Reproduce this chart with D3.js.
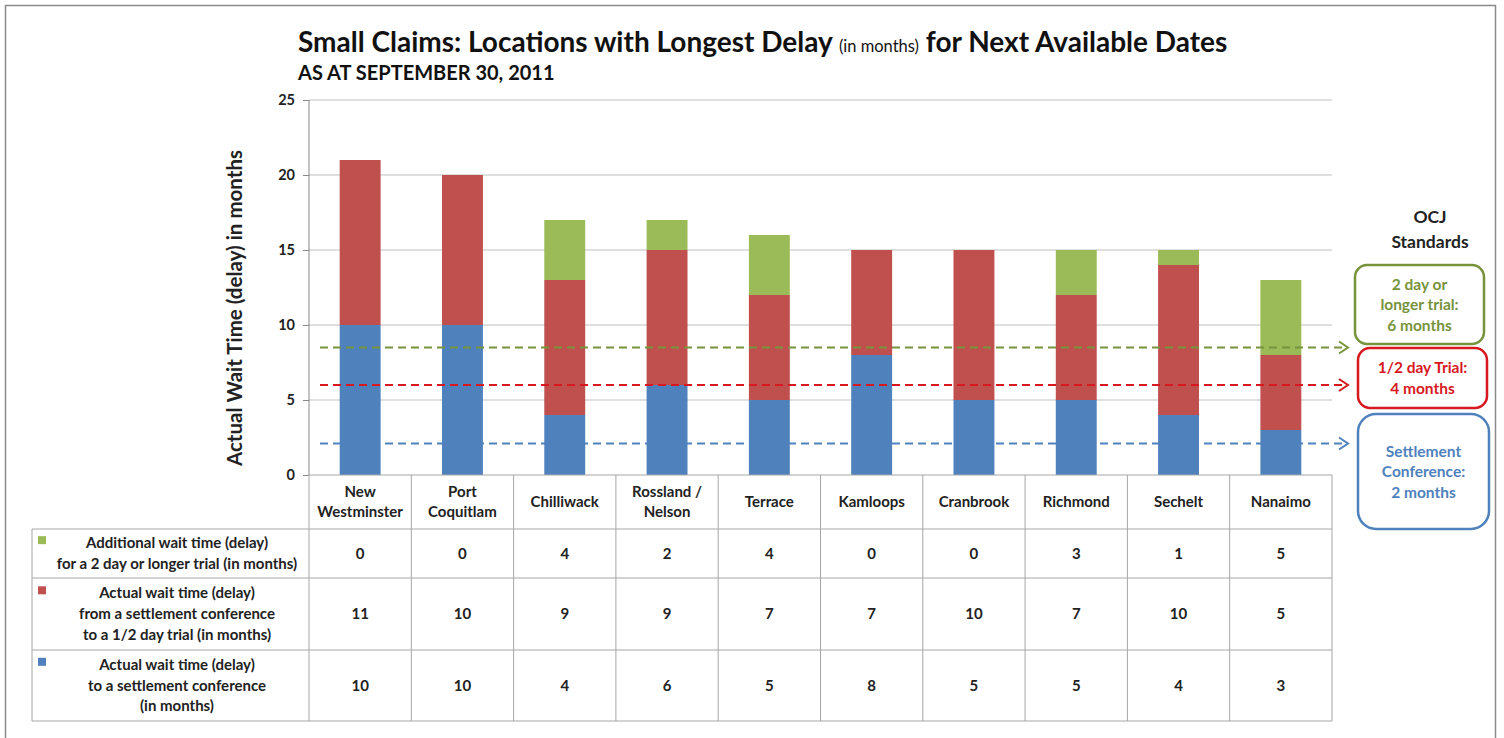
<html>
<head>
<style>
  body { margin: 0; background: #fff; }
  text { font-family: Lato, "Open Sans", sans-serif; }
</style>
</head>
<body>
<svg id="svg" width="1504" height="738"></svg>
<script src="https://d3js.org/d3.v7.min.js"></script>
<script>

// data
var locations = ["New Westminster", "Port Coquitlam", "Chilliwack", "Rossland / Nelson", "Terrace",
                 "Kamloops", "Cranbrook", "Richmond", "Sechelt", "Nanaimo"];
var locationLines = [["New", "Westminster"], ["Port", "Coquitlam"], ["Chilliwack"], ["Rossland /", "Nelson"],
                     ["Terrace"], ["Kamloops"], ["Cranbrook"], ["Richmond"], ["Sechelt"], ["Nanaimo"]];
var settlement = [10, 10, 4, 6, 5, 8, 5, 5, 4, 3];
var halfDay    = [11, 10, 9, 9, 7, 7, 10, 7, 10, 5];
var additional = [0, 0, 4, 2, 4, 0, 0, 3, 1, 5];
var yTicks = [0, 5, 10, 15, 20, 25];

var seriesNames = ["settlement", "halfDay", "additional"];
var seriesColors = { settlement: "#4f81bd", halfDay: "#c0504d", additional: "#9bbb59" };
var rowLabels = {
  additional: ["Additional wait time (delay)", "for a 2 day or longer trial (in months)"],
  halfDay: ["Actual wait time (delay)", "from a settlement conference", "to a 1/2 day trial (in months)"],
  settlement: ["Actual wait time (delay)", "to a settlement conference", "(in months)"]
};

// standard reference lines (drawn level) and their boxes
var standardLevels = [8.5, 6, 2.1];
var standardColors = ["#77933c", "#d7191f", "#4f81bd"];
var standardText = [["2 day or", "longer trial:", "6 months"], ["1/2 day Trial:", "4 months"],
                    ["Settlement", "Conference:", "2 months"]];

var svg = d3.select("#svg");
var L = 309, R = 1332, T = 100, B = 475;

var x = d3.scaleBand().domain(locations).range([L, R]).paddingInner(0.6).paddingOuter(0.3);
var col = d3.scaleBand().domain(locations).range([L, R]);
var y = d3.scaleLinear().domain([0, 25]).range([B, T]);

// frame
svg.append("rect").attr("x", 5.5).attr("y", 5.5).attr("width", 1490).attr("height", 760)
  .style("fill", "none").style("stroke", "#8a8a8a").style("stroke-width", 1.5);

// title
var title = svg.append("text").attr("x", 298).attr("y", 52).style("font-weight", "bold").style("fill", "#111");
title.append("tspan").style("font-size", "28px").text("Small Claims: Locations with Longest Delay ");
title.append("tspan").style("font-size", "16.5px").style("font-weight", "normal").text("(in months)");
title.append("tspan").style("font-size", "28px").text(" for Next Available Dates");
svg.append("text").attr("x", 298).attr("y", 80).style("font-weight", "bold").style("font-size", "20px")
  .style("fill", "#111").text("AS AT SEPTEMBER 30, 2011");

// grid + y axis
var yAxis = d3.axisLeft(y).tickValues(yTicks).tickSize(6).tickPadding(8);
svg.append("g").attr("transform", "translate(" + L + ",0)").call(yAxis)
  .call(g => g.select(".domain").remove())
  .call(g => g.selectAll(".tick line").style("stroke", "#888"))
  .call(g => g.selectAll(".tick text").style("font-size", "14.5px").style("font-weight", "bold")
    .style("font-family", "Lato, sans-serif").style("fill", "#222"));
svg.append("g").selectAll("line").data(yTicks.filter(d => d > 0)).join("line")
  .attr("x1", L).attr("x2", R).attr("y1", d => y(d)).attr("y2", d => y(d))
  .style("stroke", "#bfbfbf").style("stroke-width", 1);
svg.append("line").attr("x1", L).attr("x2", L).attr("y1", T).attr("y2", B)
  .style("stroke", "#888");

svg.append("text").attr("transform", "translate(242,308) rotate(-90)").attr("text-anchor", "middle")
  .style("font-size", "20.5px").style("font-weight", "bold").style("fill", "#222")
  .text("Actual Wait Time (delay) in months");

// stacked bars
var rows = locations.map((d, i) => ({ loc: d, settlement: settlement[i], halfDay: halfDay[i], additional: additional[i] }));
var stack = d3.stack().keys(seriesNames)(rows);
svg.append("g").selectAll("g").data(stack).join("g")
  .style("fill", d => seriesColors[d.key])
  .selectAll("rect").data(d => d).join("rect")
  .attr("x", d => x(d.data.loc)).attr("width", x.bandwidth())
  .attr("y", d => y(d[1])).attr("height", d => y(d[0]) - y(d[1]));

// standards dashed lines with arrows
standardLevels.forEach((v, i) => {
  var yy = y(v);
  svg.append("line").attr("x1", 320).attr("x2", 1346).attr("y1", yy).attr("y2", yy)
    .style("stroke", standardColors[i]).style("stroke-width", 2).style("stroke-dasharray", "8,5");
  svg.append("path").attr("d", "M1339," + (yy - 6) + "L1348," + yy + "L1339," + (yy + 6))
    .style("fill", "none").style("stroke", standardColors[i]).style("stroke-width", 2);
});

// standards boxes
svg.append("text").attr("x", 1430).attr("y", 223).attr("text-anchor", "middle")
  .style("font-size", "17.5px").style("font-weight", "bold").style("fill", "#222").text("OCJ");
svg.append("text").attr("x", 1430).attr("y", 248).attr("text-anchor", "middle")
  .style("font-size", "17.5px").style("font-weight", "bold").style("fill", "#222").text("Standards");
var boxes = [[1355, 265, 129, 79], [1358, 348, 129, 60], [1358, 414, 131, 115]];
boxes.forEach((b, i) => {
  svg.append("rect").attr("x", b[0]).attr("y", b[1]).attr("width", b[2]).attr("height", b[3])
    .attr("rx", i == 2 ? 18 : 12)
    .style("fill", "#fff").style("stroke", standardColors[i]).style("stroke-width", 2.5);
  var n = standardText[i].length;
  var cy = b[1] + b[3] / 2;
  svg.append("g").selectAll("text").data(standardText[i]).join("text")
    .attr("x", b[0] + b[2] / 2).attr("y", (d, k) => cy + (k - (n - 1) / 2) * 20.5 + 5.5)
    .attr("text-anchor", "middle").style("font-size", "15.5px").style("font-weight", "bold")
    .style("fill", standardColors[i]).text(d => d);
});

// data table
var rowTop = [529, 578, 650], rowBot = [578, 650, 721];
var rowKeys = ["additional", "halfDay", "settlement"];
var tableValues = { additional: additional, halfDay: halfDay, settlement: settlement };
var lineC = "#a6a6a6";
var tbl = svg.append("g");
// vertical lines
tbl.selectAll("line.v").data(locations.concat(["end"])).join("line").attr("class", "v")
  .attr("x1", d => d == "end" ? R : col(d)).attr("x2", d => d == "end" ? R : col(d))
  .attr("y1", B).attr("y2", rowBot[2]).style("stroke", lineC);
tbl.append("line").attr("x1", 32).attr("x2", 32).attr("y1", rowTop[0]).attr("y2", rowBot[2]).style("stroke", lineC);
tbl.append("line").attr("x1", L).attr("x2", R).attr("y1", B).attr("y2", B).style("stroke", lineC);
rowTop.concat([rowBot[2]]).forEach(v => {
  tbl.append("line").attr("x1", 32).attr("x2", R).attr("y1", v).attr("y2", v).style("stroke", lineC);
});

// header labels
tbl.selectAll("g.hdr").data(locations).join("g").attr("class", "hdr")
  .each(function(d, i) {
    var ls = locationLines[i];
    d3.select(this).selectAll("text").data(ls).join("text")
      .attr("x", col(d) + col.bandwidth() / 2)
      .attr("y", (s, k) => 502 + (k - (ls.length - 1) / 2) * 20 + 5)
      .attr("text-anchor", "middle").style("font-size", "15px").style("font-weight", "bold")
      .style("fill", "#222").text(s => s);
  });

// row labels and values
rowKeys.forEach((k, r) => {
  var cy = (rowTop[r] + rowBot[r]) / 2;
  var lines = rowLabels[k];
  var ly = (j) => cy + (j - (lines.length - 1) / 2) * 20.7 + 5;
  tbl.append("rect").attr("x", 38).attr("y", ly(0) - 12).attr("width", 8).attr("height", 8)
    .style("fill", seriesColors[k]);
  tbl.append("g").selectAll("text").data(lines).join("text")
    .attr("x", 177).attr("y", (s, j) => ly(j)).attr("text-anchor", "middle")
    .style("font-size", "15px").style("font-weight", "bold").style("fill", "#222").text(s => s);
  tbl.append("g").selectAll("text").data(tableValues[k]).join("text")
    .attr("x", (v, i) => col(locations[i]) + col.bandwidth() / 2).attr("y", cy + 5)
    .attr("text-anchor", "middle").style("font-size", "15px").style("font-weight", "bold")
    .style("fill", "#222").text(v => v);
});

</script>
</body>
</html>
